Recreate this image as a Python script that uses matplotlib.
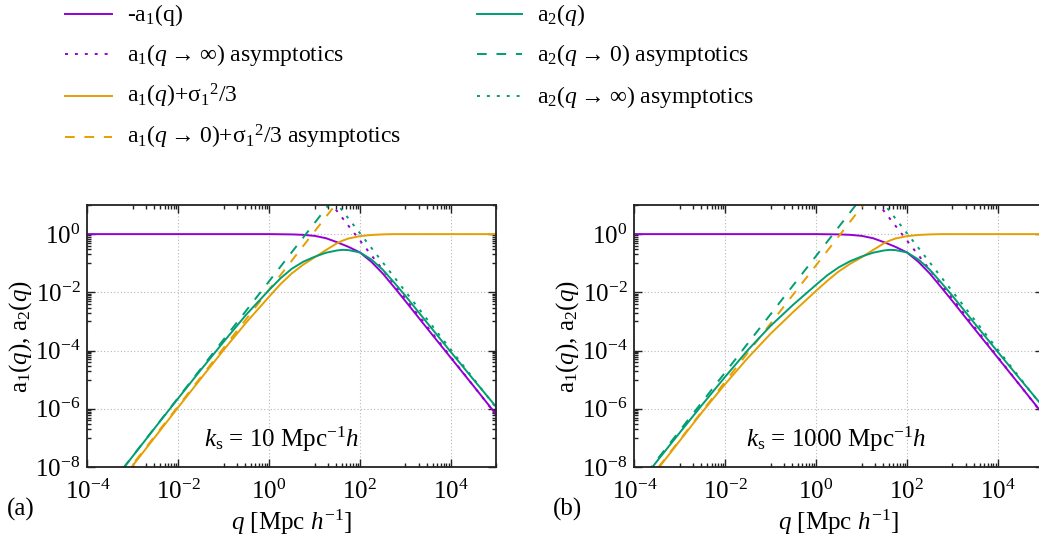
import numpy as np
import matplotlib
matplotlib.use('Agg')
import matplotlib.pyplot as plt
from matplotlib.lines import Line2D
from matplotlib.ticker import FixedLocator, FuncFormatter, NullFormatter

plt.rcParams['font.family'] = ['Liberation Serif', 'DejaVu Serif']
plt.rcParams['mathtext.fontset'] = 'custom'
plt.rcParams['mathtext.rm'] = 'Liberation Serif'
plt.rcParams['mathtext.it'] = 'Liberation Serif:italic'
plt.rcParams['mathtext.bf'] = 'Liberation Serif:bold'

# ---------------- data (log10 values) ----------------
log_q = [-4, -3.5, -3, -2.5, -2, -1.5, -1, -0.5, 0, 0.25, 0.5, 0.75, 1.0, 1.25,
         1.5, 1.625, 1.75, 2.0, 2.25, 2.5, 2.75, 3.0, 3.5, 4.0, 4.5, 5.0]

# -a1(q)  (same in both panels)
minus_a1 = [0, 0, 0, 0, 0, 0, 0, 0, 0, -0.005, -0.01, -0.025, -0.06, -0.14,
            -0.28, -0.36, -0.44, -0.63, -0.95, -1.35, -1.82, -2.3, -3.28, -4.25, -5.22, -6.2]

# panel (a): k_s = 10
a1s_a = [-9.95, -8.95, -7.95, -6.95, -5.95, -4.96, -3.98, -3.03, -2.15, -1.72, -1.35, -1.05,
         -0.8, -0.55, -0.31, -0.22, -0.15, -0.07, -0.03, -0.01, 0, 0, 0, 0, 0, 0]
a2_a = [-9.63, -8.63, -7.63, -6.63, -5.64, -4.66, -3.7, -2.76, -1.92, -1.52, -1.19, -0.95,
        -0.78, -0.64, -0.56, -0.54, -0.55, -0.63, -0.87, -1.22, -1.66, -2.12, -3.09, -4.05, -5.0, -5.94]

# panel (b): k_s = 1000
a1s_b = [-9.1, -8.1, -7.1, -6.1, -5.15, -4.25, -3.42, -2.67, -1.95, -1.6, -1.28, -1.02,
         -0.8, -0.55, -0.31, -0.22, -0.15, -0.07, -0.03, -0.01, 0, 0, 0, 0, 0, 0]
a2_b = [-8.8, -7.8, -6.82, -5.85, -4.9, -3.98, -3.15, -2.42, -1.74, -1.41, -1.14, -0.93,
        -0.77, -0.64, -0.56, -0.54, -0.55, -0.63, -0.87, -1.22, -1.66, -2.12, -3.09, -4.05, -5.0, -5.94]

# asymptotic straight lines (log10 end points)
a1_inf_q = [1.2, 5.0]
a1_inf_y = [1.38, -6.22]
a2_inf_q = [1.3, 5.0]
a2_inf_y = [1.43, -5.97]
a1s_0_q = [-4.0, 1.6]
a1s_0_y_a = [-9.91, 1.29]
a1s_0_y_b = [-9.07, 2.13]
a2_0_q = [-4.0, 1.6]
a2_0_y_a = [-9.62, 1.58]
a2_0_y_b = [-8.75, 2.45]

x_major = [1e-4, 1e-2, 1e0, 1e2, 1e4]
y_major = [1e-8, 1e-6, 1e-4, 1e-2, 1e0]
x_lim = (1e-4, 1e5)
y_lim = (1e-8, 1e1)

ks_labels = [r'$k_{\rm s}$ = 10 Mpc$^{-1}$$h$', r'$k_{\rm s}$ = 1000 Mpc$^{-1}$$h$']
panel_tags = ['(a)', '(b)']

labels = [r'-a$_1$(q)',
          'a$_1$($q$\u2009→\u2009∞) asymptotics',
          r'a$_1$($q$)+σ$_1$$^2$/3',
          'a$_1$($q$\u2009→\u20090)+σ$_1$$^2$/3 asymptotics',
          r'a$_2$($q$)',
          'a$_2$($q$\u2009→\u20090) asymptotics',
          'a$_2$($q$\u2009→\u2009∞) asymptotics']

# ---------------- styles ----------------
PURPLE = '#9400D3'
GREEN = '#009E73'
ORANGE = '#E69F00'
LW = 1.4
DASH = (0, (5, 5))
DOT = (0, (1.5, 3.6))
styles = [(PURPLE, '-'), (PURPLE, DOT), (ORANGE, '-'), (ORANGE, DASH),
          (GREEN, '-'), (GREEN, DASH), (GREEN, DOT)]

W, H = 1039, 540
fig = plt.figure(figsize=(W / 100, H / 100), dpi=100)


def fx(px):
    return px / W


def fy(py):
    return 1 - py / H


def p10(v):
    return 10.0 ** np.asarray(v, dtype=float)


panels = [
    dict(left=87.3, a1s=a1s_a, a2=a2_a, a1s0=a1s_0_y_a, a20=a2_0_y_a, ks_x=0.476),
    dict(left=634.3, a1s=a1s_b, a2=a2_b, a1s0=a1s_0_y_b, a20=a2_0_y_b, ks_x=0.493),
]
ax_w = 409.0
top_px, bot_px = 205.0, 467.0

minor_x = [m * k / 10 for m in [1e-4, 1e-2, 1e0, 1e2, 1e4, 1e6] for k in range(1, 10)]
minor_y = [m * k / 10 for m in [1e-8, 1e-6, 1e-4, 1e-2, 1e0, 1e2] for k in range(1, 10)]
fmt = FuncFormatter(lambda v, pos: r'$10^{%d}$' % int(round(np.log10(v))))

for i, p in enumerate(panels):
    ax = fig.add_axes([fx(p['left']), fy(bot_px), ax_w / W, (bot_px - top_px) / H])
    q = p10(log_q)
    ax.plot(q, p10(minus_a1), color=PURPLE, ls='-', lw=LW)
    ax.plot(p10(a1_inf_q), p10(a1_inf_y), color=PURPLE, ls=DOT, lw=LW)
    ax.plot(q, p10(p['a1s']), color=ORANGE, ls='-', lw=LW)
    ax.plot(p10(a1s_0_q), p10(p['a1s0']), color=ORANGE, ls=DASH, lw=LW)
    ax.plot(q, p10(p['a2']), color=GREEN, ls='-', lw=LW)
    ax.plot(p10(a2_0_q), p10(p['a20']), color=GREEN, ls=DASH, lw=LW)
    ax.plot(p10(a2_inf_q), p10(a2_inf_y), color=GREEN, ls=DOT, lw=LW)

    ax.set_xscale('log')
    ax.set_yscale('log')
    ax.set_xlim(*x_lim)
    ax.set_ylim(*y_lim)
    ax.xaxis.set_major_locator(FixedLocator(x_major))
    ax.yaxis.set_major_locator(FixedLocator(y_major))
    ax.xaxis.set_minor_locator(FixedLocator(minor_x))
    ax.yaxis.set_minor_locator(FixedLocator(minor_y))
    ax.xaxis.set_major_formatter(fmt)
    ax.yaxis.set_major_formatter(fmt)
    ax.xaxis.set_minor_formatter(NullFormatter())
    ax.yaxis.set_minor_formatter(NullFormatter())
    ax.tick_params(which='both', direction='in', top=True, right=True, width=1.0, color='#222222')
    ax.tick_params(which='major', length=6, labelsize=18)
    ax.tick_params(axis='x', which='major', pad=9)
    ax.tick_params(axis='y', which='major', pad=5)
    ax.tick_params(which='minor', length=3)
    for s in ax.spines.values():
        s.set_linewidth(1.3)
        s.set_color('#222222')
    ax.grid(True, which='major', color='#b8b8b8', ls=(0, (1, 2)), lw=0.8)
    ax.set_axisbelow(True)

    ax.set_xlabel(r'$q$ [Mpc $h^{-1}$]', fontsize=18, labelpad=3)
    ax.set_ylabel(r'a$_1$($q$), a$_2$($q$)', fontsize=18)
    ax.yaxis.set_label_coords(-0.13, 0.5)
    ax.text(p['ks_x'], 0.105, ks_labels[i], transform=ax.transAxes, fontsize=18,
            ha='center', va='center')
    fig.text(fx(p['left'] - 67), fy(509), panel_tags[i], fontsize=18, ha='center', va='center')

# ---------------- legend (drawn manually, gnuplot-style) ----------------
rows_y = [14, 54, 96, 137, 14, 54, 96]
hx0 = [65, 65, 65, 65, 477, 477, 477]
hx1 = [112, 112, 112, 112, 522, 522, 522]
tx = [127, 127, 127, 127, 537, 537, 537]
for j, lab in enumerate(labels):
    c, ls = styles[j]
    fig.add_artist(Line2D([fx(hx0[j]), fx(hx1[j])], [fy(rows_y[j]), fy(rows_y[j])],
                          color=c, ls=ls, lw=LW, transform=fig.transFigure))
    fig.text(fx(tx[j]), fy(rows_y[j] + 7), lab, fontsize=17, ha='left', va='baseline')

fig.savefig('out.png', dpi=100)
